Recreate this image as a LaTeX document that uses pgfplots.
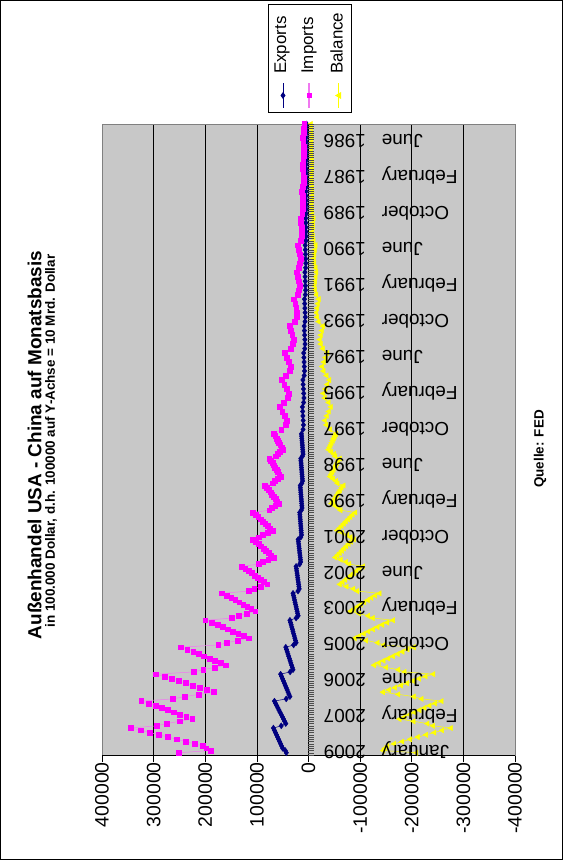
\documentclass[border=0pt]{standalone}
\usepackage{fontspec}
\setmainfont{Liberation Sans}
\usepackage{pgfplots}
\usepackage{pgfplotstable}
\pgfplotsset{compat=1.18}
\definecolor{plotbg}{RGB}{200,200,200}
\definecolor{expc}{RGB}{0,0,128}
\definecolor{impc}{RGB}{255,0,255}
\definecolor{impl}{RGB}{240,120,240}
\definecolor{balc}{RGB}{255,255,0}
\pgfplotstableread{
i exp imp bal
0 3600 8200 -4600
2 3500 8500 -5000
4 3700 9400 -5700
6 4400 10600 -6200
8 4200 10000 -5800
10 4000 9400 -5400
12 3800 8800 -5000
14 3600 9100 -5500
16 3900 10300 -6400
18 4500 11600 -7100
20 4300 10800 -6500
22 4100 10100 -6000
24 3900 9400 -5500
26 3700 9800 -6100
28 4000 11100 -7100
30 4900 12600 -7700
32 4700 11800 -7100
34 4500 11100 -6600
36 4300 10400 -6100
38 4100 10800 -6700
40 4400 12100 -7700
42 5400 15400 -10000
44 5200 14400 -9200
46 5000 13400 -8400
48 4800 12500 -7700
50 4600 13000 -8400
52 4900 14800 -9900
54 6400 20100 -13700
56 6100 18600 -12500
58 5800 17200 -11400
60 5500 15700 -10200
62 5200 16500 -11300
64 5600 19200 -13600
66 6900 22100 -15200
68 6600 20600 -14000
70 6300 19200 -12900
72 6000 17700 -11700
74 5700 18500 -12800
76 6100 21200 -15100
78 7800 27800 -20000
80 7400 25800 -18400
82 7000 23900 -16900
84 6600 22000 -15400
86 6200 23000 -16800
88 6800 26600 -19800
90 8300 36500 -28200
92 7900 34000 -26100
94 7500 31600 -24100
96 7100 29200 -22100
98 6700 30500 -23800
100 7300 35000 -27700
102 9300 45800 -36500
104 8900 42000 -33100
106 8500 38400 -29900
108 8100 34800 -26700
110 7700 36800 -29100
112 8300 43500 -35200
114 10800 51300 -40500
116 10300 46800 -36500
118 9800 42500 -32700
120 9300 38200 -28900
122 8800 40500 -31700
124 9500 48600 -39100
126 11800 55300 -43500
128 11300 50800 -39500
130 10800 46500 -35700
132 10300 42200 -31900
134 9800 44500 -34700
136 10500 52600 -42100
138 13700 67000 -53300
139 13300 64400 -51100
140 13000 62000 -49000
141 12600 59600 -47000
142 12300 57200 -44900
143 11900 54800 -42900
144 11600 52400 -40800
145 11200 50000 -38800
146 10900 55000 -44100
147 10500 60000 -49500
148 11900 64000 -52100
149 15000 76000 -61000
150 14700 72700 -58000
151 14300 69800 -55500
152 14000 67200 -53200
153 13600 64600 -51000
154 13300 61900 -48600
155 12900 59300 -46400
156 12600 56600 -44000
157 12200 54000 -41800
158 11900 59500 -47600
159 11500 65000 -53500
160 12900 69400 -56500
161 16000 84000 -68000
162 15700 80100 -64400
163 15300 76700 -61400
164 15000 73600 -58600
165 14600 70500 -55900
166 14300 67400 -53100
167 13900 64200 -50300
168 13600 61100 -47500
169 13200 58000 -44800
170 12900 64500 -51600
171 12500 71000 -58500
172 13900 76200 -62300
173 17000 108000 -91000
174 16700 102300 -85600
175 16300 97400 -81100
176 16000 92800 -76800
177 15600 88200 -72600
178 15300 83700 -68400
179 14900 79100 -64200
180 14600 74600 -60000
181 14200 70000 -55800
182 13900 79500 -65600
183 13500 89000 -75500
184 14900 96600 -81700
185 20000 108000 -88000
186 19500 102000 -82500
187 19000 96800 -77800
188 18500 92000 -73500
189 18000 87200 -69200
190 17500 82400 -64900
191 17000 77600 -60600
192 16500 72800 -56300
193 16000 68000 -52000
194 15500 78000 -62500
195 15000 88000 -73000
196 17000 96000 -79000
197 24000 130000 -106000
198 23400 122500 -99100
199 22800 116000 -93200
200 22200 110000 -87800
201 21600 104000 -82400
202 21000 98000 -77000
203 20400 92000 -71600
204 19800 86000 -66200
205 19200 80000 -60800
206 18600 92500 -73900
207 18000 105000 -87000
208 20400 115000 -94600
209 30000 168000 -138000
210 29000 158300 -129300
211 28000 149800 -121800
212 27000 142000 -115000
213 26000 134200 -108200
214 25000 126400 -101400
215 24000 118600 -94600
216 23000 110800 -87800
217 22000 103000 -81000
218 21000 119300 -98300
219 20000 135500 -115500
220 24000 148500 -124500
221 36000 200000 -164000
222 34800 187400 -152600
223 33600 176500 -142900
224 32400 166400 -134000
225 31200 156300 -125100
226 30000 146200 -116200
227 28800 136200 -107400
228 27600 126100 -98500
229 26400 116000 -89600
230 25200 137000 -111800
231 24000 158000 -134000
232 28800 174800 -146000
233 44000 248000 -204000
234 42600 234800 -192200
235 41200 223400 -182200
236 39800 212800 -173000
237 38400 202200 -163800
238 37000 191700 -154700
239 35600 181100 -145500
240 34200 170600 -136400
241 32800 160000 -127200
242 31400 182000 -150600
243 30000 204000 -174000
244 35600 221600 -186000
245 54000 296000 -242000
246 52200 279200 -227000
247 50400 264600 -214200
248 48600 251200 -202600
249 46800 237800 -191000
250 45000 224300 -179300
251 43200 210900 -167700
252 41400 197400 -156000
253 39600 184000 -144400
254 37800 212000 -174200
255 36000 240000 -204000
256 43200 262400 -219200
257 66000 324000 -258000
258 63800 309200 -245400
259 61600 296300 -234700
260 59400 284400 -225000
261 57200 272500 -215300
262 55000 260600 -205600
263 52800 248800 -196000
264 50600 236900 -186300
265 48400 225000 -176600
266 46200 249800 -203600
267 44000 274500 -230500
268 52800 294300 -241500
269 68000 344000 -276000
270 66000 325000 -259000
271 64000 308000 -244000
272 62000 290000 -228000
273 60000 272000 -212000
274 58000 255000 -197000
275 56000 238000 -182000
276 54000 220000 -166000
277 52000 205000 -153000
278 50000 198000 -148000
279 45000 190000 -145000
280 43000 252000 -209000
}\trade
\tikzset{catlab/.style={rotate=180, anchor=east, inner sep=0pt, text height=13.7bp, text depth=4bp, font=\fontsize{19}{22}\selectfont}}
\begin{document}
\begin{tikzpicture}
\path[use as bounding box] (0,0) rectangle (563bp,860bp);
\fill[white] (0,0) rectangle (563bp,860bp);
\draw[black, line width=0.8bp] (0.4bp,0.4bp) rectangle (562.6bp,859.6bp);
\begin{axis}[
  at={(308.5bp,420.5bp)}, anchor=center,
  scale only axis, width=413bp, height=631bp,
  x dir=reverse, y dir=reverse,
  xmin=-400000, xmax=400000, ymin=0, ymax=281,
  axis background/.style={fill=plotbg},
  axis line style={draw=none},
  scaled x ticks=false,
  xtick={-400000,-300000,-200000,-100000,0,100000,200000,300000,400000},
  xticklabels={\mbox{-400000},\mbox{-300000},\mbox{-200000},\mbox{-100000},\mbox{0},\mbox{100000},\mbox{200000},\mbox{300000},\mbox{400000}},
  xtick pos=lower, xticklabel pos=lower,
  ytick=\empty,
  xmajorgrids, major grid style={black, line width=0.7bp},
  tick align=outside, major tick length=7bp,
  tick style={black, line width=0.7bp},
  xticklabel style={rotate=90, anchor=east, inner sep=0pt, font=\fontsize{19.5}{22}\selectfont},
  clip mode=individual,
]
\draw[gray, line width=0.8bp] (rel axis cs:0,0) rectangle (rel axis cs:1,1);
\draw[black, line width=0.8bp] (axis cs:-400000,281) -- (axis cs:400000,281);
\addplot[expc, line width=0.5bp, mark=diamond*, mark size=2.9bp, mark options={solid, fill=expc, draw=expc}] table[x=exp, y=i] {\trade};
\addplot[impl, line width=0.5bp, mark=square*, mark size=2.4bp, mark options={solid, fill=impc, draw=impc}] table[x=imp, y=i] {\trade};
\addplot[balc, line width=0.5bp, mark=triangle*, mark size=3bp, mark options={solid, rotate=90, fill=balc, draw=balc}] table[x=bal, y=i] {\trade};
\draw[black, line width=0.7bp] (axis cs:0,0) -- (axis cs:0,281);
\pgfplotsinvokeforeach{0,...,281}{\draw[black!70, line width=0.45bp] (axis cs:0,#1) -- ([xshift=6bp]axis cs:0,#1);}
\node[catlab] at ([xshift=15bp]axis cs:0,7) {June\hspace{16bp}1986};
\node[catlab] at ([xshift=15bp]axis cs:0,23) {February\hspace{16bp}1987};
\node[catlab] at ([xshift=15bp]axis cs:0,39) {October\hspace{16bp}1989};
\node[catlab] at ([xshift=15bp]axis cs:0,55) {June\hspace{16bp}1990};
\node[catlab] at ([xshift=15bp]axis cs:0,71) {February\hspace{16bp}1991};
\node[catlab] at ([xshift=15bp]axis cs:0,87) {October\hspace{16bp}1993};
\node[catlab] at ([xshift=15bp]axis cs:0,103) {June\hspace{16bp}1994};
\node[catlab] at ([xshift=15bp]axis cs:0,119) {February\hspace{16bp}1995};
\node[catlab] at ([xshift=15bp]axis cs:0,135) {October\hspace{16bp}1997};
\node[catlab] at ([xshift=15bp]axis cs:0,151) {June\hspace{16bp}1998};
\node[catlab] at ([xshift=15bp]axis cs:0,167) {February\hspace{16bp}1999};
\node[catlab] at ([xshift=15bp]axis cs:0,183) {October\hspace{16bp}2001};
\node[catlab] at ([xshift=15bp]axis cs:0,199) {June\hspace{16bp}2002};
\node[catlab] at ([xshift=15bp]axis cs:0,215) {February\hspace{16bp}2003};
\node[catlab] at ([xshift=15bp]axis cs:0,231) {October\hspace{16bp}2005};
\node[catlab] at ([xshift=15bp]axis cs:0,247) {June\hspace{16bp}2006};
\node[catlab] at ([xshift=15bp]axis cs:0,263) {February\hspace{16bp}2007};
\node[catlab] at ([xshift=15bp]axis cs:0,279) {January\hspace{16bp}2009};
\end{axis}
% legend
\draw[black, line width=0.8bp, fill=white] (268bp,748bp) rectangle (351bp,856bp);
\node[rotate=90, anchor=west, inner sep=0pt, font=\fontsize{17}{20}\selectfont] at (282bp,786bp) {Exports};
\node[rotate=90, anchor=west, inner sep=0pt, font=\fontsize{17}{20}\selectfont] at (309bp,786bp) {Imports};
\node[rotate=90, anchor=west, inner sep=0pt, font=\fontsize{17}{20}\selectfont] at (336.5bp,786bp) {Balance};
\draw[expc, line width=0.8bp] (283bp,752bp) -- (283bp,777bp);
\fill[expc] (283bp,768bp) -- (285.5bp,764.5bp) -- (283bp,761bp) -- (280.5bp,764.5bp) -- cycle;
\draw[impl, line width=1.5bp] (309bp,752bp) -- (309bp,777bp);
\fill[impc] (306.5bp,762bp) rectangle (311.5bp,767bp);
\draw[balc, line width=0.8bp] (338bp,752bp) -- (338bp,777bp);
\fill[balc] (335bp,764.5bp) -- (341bp,768bp) -- (341bp,761bp) -- cycle;
% titles
\node[rotate=90, font=\bfseries\fontsize{19}{22}\selectfont] at (34.5bp,415bp) {Außenhandel USA - China auf Monatsbasis};
\node[rotate=90, font=\bfseries\fontsize{13.5}{16}\selectfont] at (51bp,419bp) {in 100.000 Dollar, d.h. 100000 auf Y-Achse = 10 Mrd. Dollar};
\node[rotate=90, font=\bfseries\fontsize{13.5}{16}\selectfont] at (540bp,411bp) {Quelle: FED};
\end{tikzpicture}
\end{document}
